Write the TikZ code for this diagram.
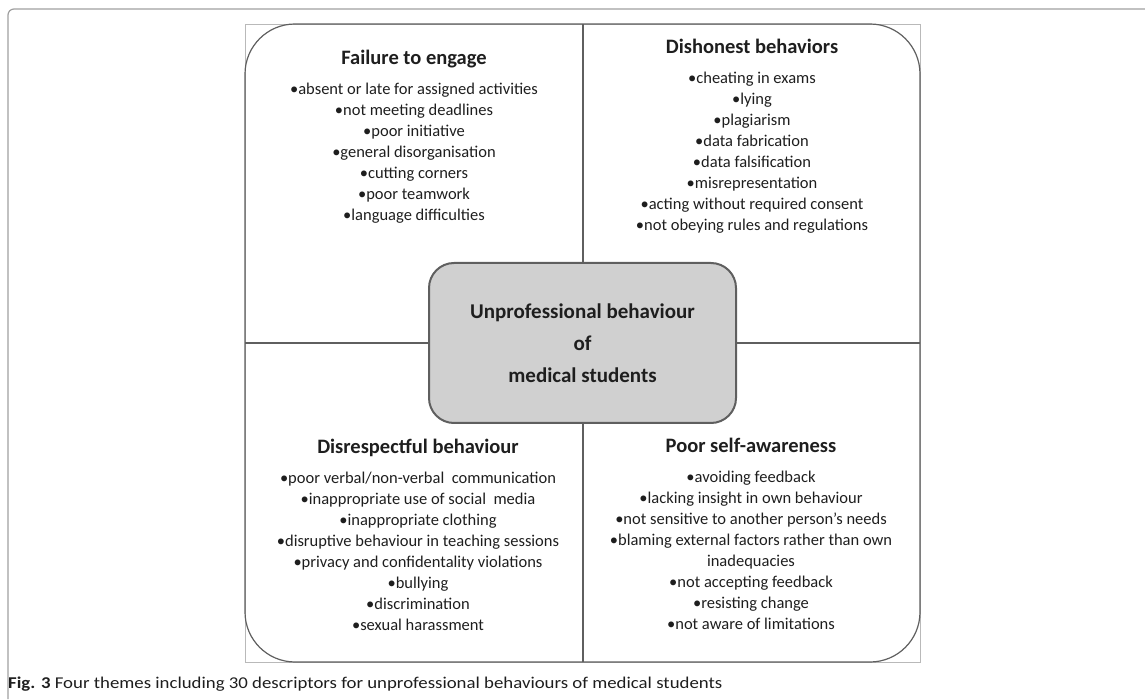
\documentclass[tikz,border=0pt]{standalone}
\usepackage{fontspec}
\setmainfont{Carlito}
\usepackage{xcolor}
\usepackage{tikz}
\usetikzlibrary{positioning}
\definecolor{boxgray}{RGB}{208,208,208}
\definecolor{linegray}{RGB}{95,95,95}
\definecolor{textgray}{RGB}{30,30,30}

\begin{document}
\begin{tikzpicture}[
      x=1pt, y=1pt,
      node distance=13pt,
      theme/.style={inner sep=0pt, text=textgray, text height=14.5pt, text depth=4.5pt, font=\fontsize{20.5}{24}\selectfont\bfseries},
      items/.style={inner sep=0pt, text=textgray, align=center, font=\fontsize{16.5}{21}\selectfont},
      core/.style={rectangle, draw=linegray, line width=2pt, fill=boxgray, rounded corners=25pt, minimum width=307pt, minimum height=160pt, align=center, text=textgray, font=\fontsize{21}{32}\selectfont\bfseries},
      quad/.style={draw=linegray, line width=1.2pt}
    ]
      \useasboundingbox (0,0) rectangle (1145,699);

      % Frame
      \draw[gray!75, line width=1.2pt, rounded corners=6pt] (8,0) -- (8,690) -- (1145,690);

      % Quadrants
      \draw[gray!55, line width=0.8pt] (245,37) rectangle (920,675);
      \draw[quad, rounded corners=50pt] (245,37) rectangle (920,675);
      \draw[quad] (583,37) -- (583,675);
      \draw[quad] (245,356) -- (920,356);

      % Themes
      \node[theme] (engage) at (414,639) {Failure to engage};
      \node[items, below=of engage] (engagelist) {•absent or late for assigned activities\\•not meeting deadlines\\•poor initiative\\•general disorganisation\\•cutting corners\\•poor teamwork\\•language difficulties};

      \node[theme] (dishonest) at (752,650) {Dishonest behaviors};
      \node[items, below=of dishonest] (dishonestlist) {•cheating in exams\\•lying\\•plagiarism\\•data fabrication\\•data falsification\\•misrepresentation\\•acting without required consent\\•not obeying rules and regulations};

      \node[theme] (disrespect) at (418,250) {Disrespectful behaviour};
      \node[items, below=of disrespect] (disrespectlist) {•poor verbal/non-verbal\ \ communication\\•inappropriate use of social\ \ media\\•inappropriate clothing\\•disruptive behaviour in teaching sessions\\•privacy and confidentality violations\\•bullying\\•discrimination\\•sexual harassment};

      \node[theme] (awareness) at (751,251) {Poor self-awareness};
      \node[items, below=of awareness] (awarenesslist) {•avoiding feedback\\•lacking insight in own behaviour\\•not sensitive to another person's needs\\•blaming external factors rather than own\\inadequacies\\•not accepting feedback\\•resisting change\\•not aware of limitations};

      % Centre
      \node[core] (centre) at (582.5,356) {Unprofessional behaviour\\of\\medical students};

      % Caption
      \node[anchor=west, inner sep=0pt, text=textgray, font=\fontsize{16.5}{18}\selectfont] (caption) at (8,15) {\scalebox{1.14}[1]{\textbf{Fig. 3} Four themes including 30 descriptors for unprofessional behaviours of medical students}};

    \end{tikzpicture}
\end{document}
